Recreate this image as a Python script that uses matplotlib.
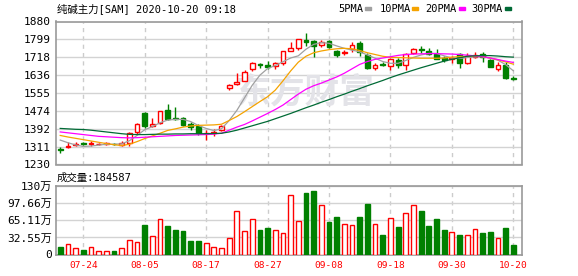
import numpy as np
import matplotlib.pyplot as plt
from matplotlib.patches import Rectangle

plt.rcParams['font.family'] = ['DejaVu Sans Mono', 'Noto Sans CJK SC']

dates = ['07-21', '07-22', '07-23', '07-24', '07-27', '07-28', '07-29', '07-30', '07-31',
         '08-03', '08-04', '08-05', '08-06', '08-07', '08-10', '08-11', '08-12', '08-13',
         '08-14', '08-17', '08-18', '08-19', '08-20', '08-21', '08-24', '08-25', '08-26',
         '08-27', '08-28', '08-31', '09-01', '09-02', '09-03', '09-04', '09-07', '09-08',
         '09-09', '09-10', '09-11', '09-14', '09-15', '09-16', '09-17', '09-18', '09-21',
         '09-22', '09-23', '09-24', '09-25', '09-28', '09-29', '09-30', '10-09', '10-12',
         '10-13', '10-14', '10-15', '10-16', '10-19', '10-20']
tick_dates = ['07-24', '08-05', '08-17', '08-27', '09-08', '09-18', '09-30', '10-20']

opens = [1299, 1308, 1320, 1329, 1324, 1322, 1324, 1323, 1317, 1329,
         1376, 1463, 1405, 1417, 1478, 1440, 1440, 1413, 1406, 1373,
         1373, 1387, 1576, 1597, 1611, 1663, 1686, 1680, 1676, 1690,
         1748, 1758, 1796, 1790, 1771, 1792, 1748, 1737, 1754, 1784,
         1728, 1668, 1686, 1676, 1706, 1683, 1736, 1755, 1746, 1731,
         1714, 1708, 1730, 1693, 1720, 1730, 1703, 1663, 1682, 1623]
highs = [1310, 1330, 1330, 1331, 1338, 1326, 1333, 1327, 1338, 1378,
         1418, 1470, 1440, 1475, 1505, 1490, 1445, 1425, 1415, 1388,
         1392, 1408, 1598, 1645, 1660, 1695, 1690, 1700, 1697, 1748,
         1785, 1800, 1826, 1795, 1795, 1798, 1752, 1752, 1785, 1790,
         1735, 1690, 1697, 1715, 1715, 1735, 1760, 1770, 1758, 1754,
         1722, 1722, 1738, 1736, 1742, 1740, 1708, 1694, 1694, 1630]
lows = [1283, 1306, 1315, 1318, 1312, 1320, 1320, 1317, 1313, 1315,
        1370, 1395, 1400, 1412, 1432, 1430, 1405, 1388, 1365, 1340,
        1360, 1382, 1570, 1592, 1608, 1655, 1670, 1665, 1662, 1684,
        1745, 1752, 1770, 1720, 1765, 1760, 1718, 1728, 1740, 1725,
        1665, 1660, 1678, 1658, 1668, 1660, 1732, 1735, 1728, 1708,
        1698, 1690, 1670, 1688, 1716, 1695, 1674, 1656, 1617, 1615]
closes = [1296, 1315, 1323, 1322, 1327, 1324, 1326, 1321, 1327, 1372,
          1414, 1406, 1415, 1472, 1436, 1436, 1410, 1402, 1375, 1375,
          1376, 1405, 1590, 1606, 1652, 1690, 1680, 1673, 1690, 1746,
          1758, 1799, 1785, 1770, 1789, 1766, 1728, 1741, 1773, 1743,
          1667, 1680, 1682, 1708, 1683, 1731, 1753, 1752, 1732, 1710,
          1706, 1712, 1693, 1723, 1727, 1718, 1675, 1682, 1622, 1620]
# volume in 万
volumes = [14.3, 20, 12.4, 9.2, 14.3, 6.7, 6.7, 7.3, 12.4, 27.7,
           23.9, 56.9, 35.3, 67.7, 55, 47.3, 44.8, 26.3, 26.3, 21.9,
           14.9, 12.4, 31.5, 83, 44.8, 67.7, 46.8, 50.6, 46.8, 41.6,
           113.5, 63.9, 118, 121.8, 94.5, 62.6, 72.2, 58.2, 56.3, 72.2,
           97, 58.2, 37.8, 69.7, 53.1, 78.6, 94.5, 83.6, 55, 68.3,
           46.8, 42.4, 37.8, 37.2, 48.1, 41.6, 42.9, 30.9, 51.1, 18.4587]

ma5 = [1341, 1329, 1319, 1312, 1314, 1318, 1322, 1322, 1324, 1338,
       1362, 1388, 1402, 1420, 1432, 1435, 1435, 1425, 1407, 1394,
       1384, 1392, 1430, 1476, 1533, 1590, 1636, 1666, 1680, 1697,
       1714, 1724, 1754, 1776, 1784, 1781, 1769, 1758, 1750, 1742,
       1728, 1713, 1698, 1690, 1690, 1703, 1717, 1728, 1735, 1735,
       1724, 1714, 1712, 1716, 1719, 1720, 1713, 1704, 1684, 1656]
ma10 = [1362, 1355, 1349, 1343, 1337, 1331, 1325, 1320, 1316, 1322,
        1334, 1348, 1360, 1372, 1385, 1392, 1400, 1405, 1408, 1409,
        1410, 1413, 1430, 1448, 1470, 1493, 1516, 1538, 1568, 1610,
        1655, 1695, 1722, 1738, 1746, 1752, 1756, 1758, 1756, 1748,
        1738, 1730, 1722, 1717, 1716, 1715, 1714, 1713, 1713, 1713,
        1714, 1718, 1720, 1722, 1723, 1720, 1714, 1706, 1696, 1686]
ma20 = [1378, 1374, 1370, 1366, 1362, 1358, 1356, 1354, 1352, 1351,
        1352, 1354, 1356, 1358, 1360, 1362, 1363, 1364, 1365, 1366,
        1368, 1372, 1386, 1400, 1412, 1428, 1445, 1462, 1480, 1500,
        1525, 1550, 1572, 1588, 1600, 1614, 1628, 1645, 1665, 1685,
        1698, 1708, 1714, 1720, 1726, 1730, 1732, 1733, 1734, 1734,
        1733, 1732, 1730, 1727, 1724, 1720, 1714, 1707, 1700, 1694]
ma30 = [1394, 1392, 1390, 1389, 1386, 1382, 1378, 1374, 1370, 1367,
        1366, 1366, 1367, 1368, 1368, 1369, 1369, 1370, 1370, 1370,
        1371, 1372, 1378, 1386, 1396, 1406, 1416, 1426, 1438, 1450,
        1462, 1475, 1488, 1500, 1513, 1525, 1538, 1550, 1563, 1575,
        1588, 1600, 1612, 1625, 1637, 1648, 1659, 1670, 1680, 1690,
        1700, 1708, 1715, 1722, 1724, 1725, 1725, 1723, 1720, 1718]

price_ticks = [1230, 1311.25, 1392.5, 1473.75, 1555, 1636.25, 1717.5, 1798.75, 1880]
price_labels = ['1230', '1311', '1392', '1474', '1555', '1636', '1718', '1799', '1880']
vol_ticks = [0, 32.555, 65.11, 97.665, 130.22]
vol_labels = ['0', '32.55万', '65.11万', '97.66万', '130万']

RED = '#ff0000'
GREEN = '#008000'
ma_colors = ['#a0a0a0', '#f5a300', '#ff00ff', '#006a35']

W, H = 578, 276
fig = plt.figure(figsize=(W / 100, H / 100), dpi=100)
ax = fig.add_axes([56 / W, 1 - 164.5 / H, 466.3 / W, 143 / H])
axv = fig.add_axes([56 / W, 1 - 254.5 / H, 466.3 / W, 68.2 / H])

x = np.arange(len(closes))
o = np.array(opens, float)
c = np.array(closes, float)
hi = np.array(highs, float)
lo = np.array(lows, float)
up = c >= o
cols = np.where(up, RED, GREEN)
bw = 0.62

# candles
top = np.maximum(o, c)
bot = np.minimum(o, c)
ax.vlines(x, top, hi, colors=cols, lw=1, zorder=3)
ax.vlines(x, lo, bot, colors=cols, lw=1, zorder=3)
ax.bar(x, top - bot, bottom=bot, width=bw, color=np.where(up, 'white', GREEN),
       edgecolor=cols, linewidth=1, zorder=3)

for ma, col in zip([ma5, ma10, ma20, ma30], ma_colors):
    ax.plot(x, ma, color=col, lw=0.9, zorder=4)

# volume
axv.bar(x, volumes, width=bw, color=np.where(up, 'white', GREEN),
        edgecolor=cols, linewidth=1, zorder=3)

tick_pos = [dates.index(d) for d in tick_dates]
for a in (ax, axv):
    a.set_xlim(-0.55, 60.17)
    a.set_xticks(tick_pos)
    a.tick_params(length=0)
    for s in a.spines.values():
        s.set_color('#999999')
        s.set_linewidth(1.2)
    for p in tick_pos:
        a.axvline(p, color='#cccccc', lw=1, ls=(0, (3, 3)), zorder=1)

ax.set_ylim(1230, 1880)
ax.set_yticks(price_ticks)
ax.set_yticklabels(price_labels, fontsize=8)
ax.set_xticklabels([])
for t in price_ticks:
    ax.axhline(t, color='#d3d3d3', lw=1, zorder=1)

axv.set_ylim(0, 130.22)
axv.set_yticks(vol_ticks)
axv.set_yticklabels(vol_labels, fontsize=8)
axv.set_xticklabels(tick_dates, fontsize=6.8, color=RED)
axv.tick_params(axis='x', pad=5)
axv.tick_params(axis='y', pad=3)
for t in vol_ticks:
    axv.axhline(t, color='#d3d3d3', lw=1, zorder=1)

# watermark
ax.text(0.535, 0.507, '东方财富', transform=ax.transAxes, fontsize=25,
        fontweight='bold', color='#e3e3e8', ha='center', va='center', zorder=2,
        family=['Noto Sans CJK SC'])

fig.text(57 / W, 1 - 8.5 / H, '纯碱主力[SAM] 2020-10-20 09:18', fontsize=7.5,
         va='center', ha='left')
fig.text(57 / W, 1 - 178 / H, '成交量:184587', fontsize=7.5, va='center', ha='left')

# legend
leg = [('5PMA', 338, 365), ('10PMA', 380, 412), ('20PMA', 425, 459), ('30PMA', 471, 505)]
for (name, tx, mx), col in zip(leg, ma_colors):
    fig.text(tx / W, 1 - 8.5 / H, name, fontsize=7.5, va='center', ha='left')
    fig.add_artist(Rectangle((mx / W, 1 - 10 / H), 6 / W, 3 / H,
                             transform=fig.transFigure, color=col))

fig.savefig('out.png', dpi=100)
